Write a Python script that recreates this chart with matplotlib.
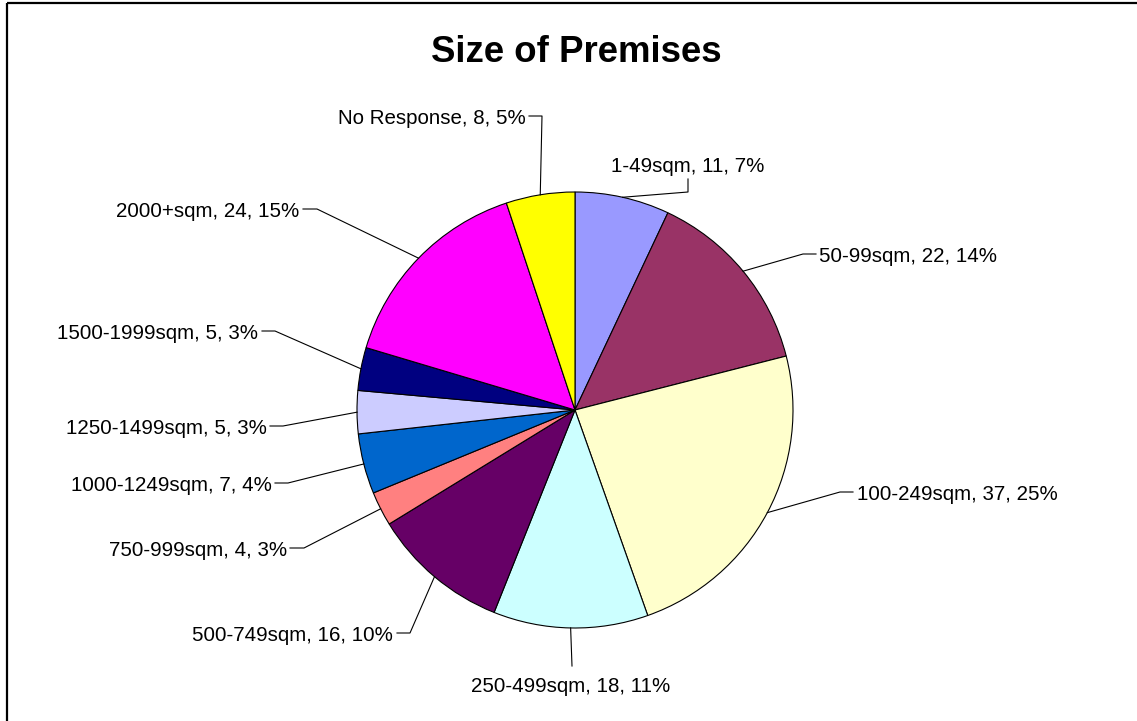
import matplotlib.pyplot as plt
import numpy as np

plt.rcParams['font.family'] = ['Liberation Sans', 'DejaVu Sans']

# survey answers, clockwise from 12 o'clock
categories = ['1-49sqm', '50-99sqm', '100-249sqm', '250-499sqm', '500-749sqm',
              '750-999sqm', '1000-1249sqm', '1250-1499sqm', '1500-1999sqm',
              '2000+sqm', 'No Response']
counts = [11, 22, 37, 18, 16, 4, 7, 5, 5, 24, 8]
pct_labels = [7, 14, 25, 11, 10, 3, 4, 3, 3, 15, 5]
colors = ['#9999FF', '#993366', '#FFFFCC', '#CCFFFF', '#660066', '#FF8080',
          '#0066CC', '#CCCCFF', '#000080', '#FF00FF', '#FFFF00']

# label layout in pixels: leader elbow, leader end, text anchor x, alignment
elbows = [(688, 192), (803, 254), (840, 492), (572, 666), (410, 633), (304, 548),
          (288, 483), (283, 426), (275, 331), (317, 209), (542, 116)]
ends = [(688, 179), (816, 254), (853, 492), (572, 666), (397, 633), (290, 548),
        (275, 483), (270, 426), (262, 331), (303, 209), (529, 116)]
text_x = [688, 819, 857, 571, 393, 287, 272, 267, 258, 299, 526]
text_y = [164, 254, 492, 684, 633, 548, 483, 426, 331, 209, 116]
aligns = ['center', 'left', 'left', 'center', 'right', 'right', 'right',
          'right', 'right', 'right', 'right']

W, H = 1137, 721
cx, cy, R = 575, 410, 218

fig = plt.figure(figsize=(W / 100, H / 100), dpi=100)
ax = fig.add_axes([0, 0, 1, 1])

# y axis runs downward, so counterclockwise in data is clockwise on screen
wedges, _ = ax.pie(counts, colors=colors, startangle=-90, counterclock=True,
                   center=(cx, cy), radius=R, frame=True,
                   wedgeprops=dict(edgecolor='black', linewidth=0.8))

ax.set_xlim(0, W)
ax.set_ylim(H, 0)
ax.set_aspect('equal')
ax.axis('off')

for i, w in enumerate(wedges):
    mid = np.deg2rad((w.theta1 + w.theta2) / 2)
    sx, sy = cx + R * np.cos(mid), cy + R * np.sin(mid)
    ex, ey = elbows[i]
    tx, ty = ends[i]
    ax.plot([sx, ex, tx], [sy, ey, ty], color='black', lw=0.8)
    ax.text(text_x[i], text_y[i] + 8,
            f'{categories[i]}, {counts[i]}, {pct_labels[i]}%',
            ha=aligns[i], va='baseline', fontsize=14.8, color='black')

ax.text(576, 53, 'Size of Premises', ha='center', va='center',
        fontsize=26.4, fontweight='bold')

# chart area border (only top and left edges fall inside the image)
ax.plot([7, W], [3, 3], color='black', lw=1.6, solid_capstyle='butt')
ax.plot([7, 7], [3, H], color='black', lw=1.6, solid_capstyle='butt')

fig.savefig('out.png', dpi=100, facecolor='white')
